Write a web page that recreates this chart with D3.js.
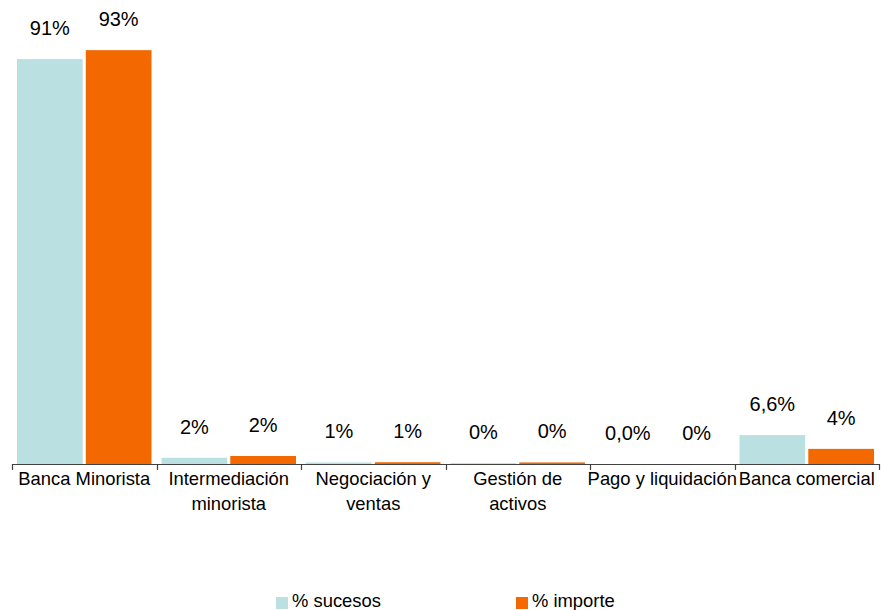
<!DOCTYPE html>
<html>
<head>
<meta charset="utf-8">
<script src="https://cdn.jsdelivr.net/npm/d3@7"></script>
<style>
    body { margin: 0; background: #ffffff; }
    text { font-family: "Liberation Sans", Arial, sans-serif; fill: #000000; }
</style>
</head>
<body>
<div id="chart"></div>
<script>
// data
const categories = [
    "Banca Minorista",
    "Intermediación\nminorista",
    "Negociación y\nventas",
    "Gestión de\nactivos",
    "Pago y liquidación",
    "Banca comercial"
];
const seriesNames = ["% sucesos", "% importe"];
const sucesos = [91, 1.4, 0.35, 0.2, 0, 6.5];
const importe = [93, 1.8, 0.4, 0.35, 0, 3.4];
const sucesosLabels = ["91%", "2%", "1%", "0%", "0,0%", "6,6%"];
const importeLabels = ["93%", "2%", "1%", "0%", "0%", "4%"];

const colors = ["#bbe0e2", "#f46800"];

function drawChart() {
    const w = 881;
    const h = 610;
    const baseline = 464;

    let rows = [];
    for (let i = 0; i < categories.length; i++) {
        rows.push({
            category: categories[i],
            values: [
                {key: seriesNames[0], value: sucesos[i], label: sucesosLabels[i]},
                {key: seriesNames[1], value: importe[i], label: importeLabels[i]}
            ]
        });
    }

    const x0 = d3.scaleBand()
        .domain(categories)
        .range([12, 879])
        .paddingInner(0)
        .paddingOuter(0);

    const x1 = d3.scaleBand()
        .domain(seriesNames)
        .range([5, x0.bandwidth() - 5])
        .paddingInner(0.045);

    const yScale = d3.scaleLinear()
        .domain([0, 100])
        .range([baseline, 19]);

    const color = d3.scaleOrdinal()
        .domain(seriesNames)
        .range(colors);

    const svg = d3.select("#chart")
        .append("svg")
        .attr("width", w)
        .attr("height", h);

    const groups = svg.selectAll("g.cat")
        .data(rows)
        .enter()
        .append("g")
        .attr("class", "cat")
        .attr("transform", function (d) {
            return "translate(" + x0(d.category) + ",0)";
        });

    groups.selectAll("rect")
        .data(function (d) { return d.values; })
        .enter()
        .append("rect")
        .attr("x", function (d) { return x1(d.key); })
        .attr("y", function (d) { return yScale(d.value); })
        .attr("width", x1.bandwidth())
        .attr("height", function (d) { return baseline - yScale(d.value); })
        .attr("fill", function (d) { return color(d.key); });

    // value labels above the bars
    groups.selectAll("text.val")
        .data(function (d) { return d.values; })
        .enter()
        .append("text")
        .attr("class", "val")
        .attr("text-anchor", "middle")
        .attr("x", function (d) { return x1(d.key) + x1.bandwidth() / 2; })
        .attr("y", function (d) { return yScale(d.value) - 24; })
        .style("font-size", "20px")
        .text(function (d) { return d.label; });

    // x axis with ticks between categories
    const xAxis = d3.axisBottom(x0)
        .tickSize(0)
        .tickFormat("");

    const axisG = svg.append("g")
        .attr("transform", "translate(0," + baseline + ")")
        .call(xAxis);
    axisG.select(".domain")
        .attr("stroke", "#404040")
        .attr("stroke-width", 1.2)
        .attr("d", "M12,0.5H879");

    const bounds = categories.map(function (c) { return x0(c); }).concat([x0.range()[1]]);
    axisG.selectAll("line.sep")
        .data(bounds)
        .enter()
        .append("line")
        .attr("class", "sep")
        .attr("x1", function (d) { return Math.round(d) + 0.5; })
        .attr("x2", function (d) { return Math.round(d) + 0.5; })
        .attr("y1", 0)
        .attr("y2", 6)
        .attr("stroke", "#404040")
        .attr("stroke-width", 1.2);

    // category labels, split on line breaks
    const catLabels = svg.selectAll("text.cat")
        .data(categories)
        .enter()
        .append("text")
        .attr("class", "cat")
        .attr("text-anchor", "middle")
        .attr("x", function (d) { return x0(d) + x0.bandwidth() / 2; })
        .attr("y", baseline + 21)
        .style("font-size", "18.4px");

    catLabels.selectAll("tspan")
        .data(function (d) { return d.split("\n").map(function (t) { return {t: t, x: x0(d) + x0.bandwidth() / 2}; }); })
        .enter()
        .append("tspan")
        .attr("x", function (d) { return d.x; })
        .attr("dy", function (d, i) { return i === 0 ? 0 : 25; })
        .text(function (d) { return d.t; });

    // legend
    const legend = svg.selectAll("g.legend")
        .data(seriesNames)
        .enter()
        .append("g")
        .attr("class", "legend")
        .attr("transform", function (d, i) {
            return "translate(" + (276 + i * 240) + ",597)";
        });

    legend.append("rect")
        .attr("x", 0)
        .attr("y", 0)
        .attr("width", 12)
        .attr("height", 12)
        .attr("fill", function (d) { return color(d); });

    legend.append("text")
        .attr("x", 16)
        .attr("y", 10)
        .style("font-size", "18.4px")
        .text(function (d) { return d; });
}

window.onload = drawChart;
</script>
</body>
</html>
